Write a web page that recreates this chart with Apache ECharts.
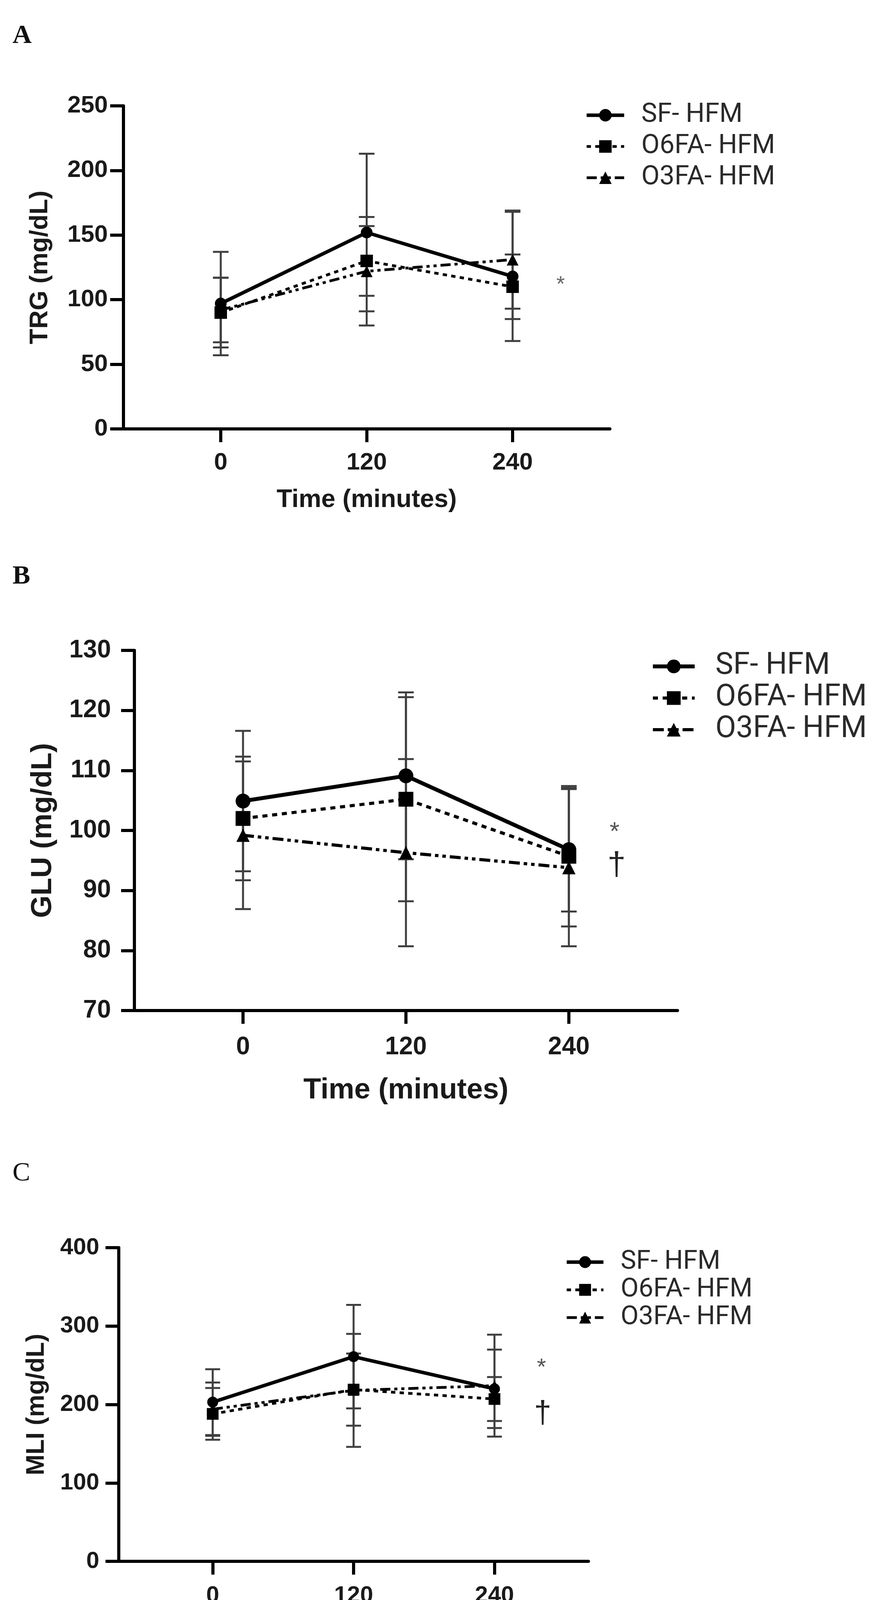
<!DOCTYPE html>
<html><head><meta charset="utf-8">
<script src="https://cdn.jsdelivr.net/npm/echarts@6/dist/echarts.min.js"></script>
<style>html,body{margin:0;padding:0;background:#fff;overflow:hidden}#c{width:2237px;height:4244px}</style>
</head><body><div id="c"></div>
<script>
// ---------- DATA ----------
const times = [0, 120, 240];
const groupNames = ['SF- HFM', 'O6FA- HFM', 'O3FA- HFM'];

// Panel A: TRG (mg/dL)
const trgSF = [97, 152, 118];
const trgSFsd = [40, 61, 50];
const trgO6 = [90, 130, 110];
const trgO6sd = [27, 27, 25];
const trgO3 = [92, 122, 131];
const trgO3sd = [25, 42, 38];
const trgTicks = [0, 250, 50];

// Panel B: GLU (mg/dL)
const gluSF = [104.9, 109.1, 96.8];
const gluSFsd = [11.7, 13.9, 10.3];
const gluO6 = [102, 105.2, 95.7];
const gluO6sd = [10.3, 17, 11.7];
const gluO3 = [99.2, 96.3, 93.8];
const gluO3sd = [12.3, 15.6, 13.1];
const gluTicks = [70, 130, 10];

// Panel C: MLI (mg/dL)
const mliSF = [203, 261, 220];
const mliSFsd = [42, 66, 50];
const mliO6 = [188, 219, 207];
const mliO6sd = [33, 46, 28];
const mliO3 = [194, 218, 224];
const mliO3sd = [34, 72, 65];
const mliTicks = [0, 400, 100];

// ---------- LAYOUT / STYLE ----------
const panels = [
  { id:'A', yName:'TRG (mg/dL)', ticks:trgTicks,
    means:[trgSF,trgO6,trgO3], sds:[trgSFsd,trgO6sd,trgO3sd],
    grid:{left:316, top:271, width:1245, height:827},
    tickFont:62, nameFont:65, yLabelMargin:40, xLabelMargin:56, xNameGap:150, yNameGap:180,
    lw:[9,7,7], dash:['solid',[11,11],[26,10,8,10,8,10]], sym:[30,32,30], cap:20, ew:5,
    legend:{left:1497, top:258, itemWidth:96, itemHeight:40, font:68, lh:74, gap:6, pad:39} },
  { id:'B', yName:'GLU (mg/dL)', ticks:gluTicks,
    means:[gluSF,gluO6,gluO3], sds:[gluSFsd,gluO6sd,gluO3sd],
    grid:{left:344, top:1665, width:1390, height:922},
    tickFont:64, nameFont:74, yLabelMargin:60, xLabelMargin:62, xNameGap:168, yNameGap:196,
    lw:[10,8,8], dash:['solid',[13,12],[28,10,9,10,9,10]], sym:[38,38,34], cap:20, ew:5,
    legend:{left:1666, top:1667, itemWidth:107, itemHeight:44, font:77, lh:78, gap:3, pad:48} },
  { id:'C', yName:'MLI (mg/dL)', ticks:mliTicks,
    means:[mliSF,mliO6,mliO3], sds:[mliSFsd,mliO6sd,mliO3sd],
    grid:{left:304, top:3194, width:1202, height:803},
    tickFont:60, nameFont:64, yLabelMargin:50, xLabelMargin:58, xNameGap:152, yNameGap:178,
    lw:[9,7,7], dash:['solid',[11,11],[26,10,8,10,8,10]], sym:[28,30,28], cap:19, ew:5,
    legend:{left:1446, top:3197, itemWidth:94, itemHeight:38, font:67, lh:68, gap:3, pad:39} }
];
const symbols = ['circle','rect','triangle'];

function errRender(capHalf, lw) {
  return function (params, api) {
    const x = api.value(0), lo = api.value(1), hi = api.value(2);
    const pLo = api.coord([x, lo]), pHi = api.coord([x, hi]);
    const style = { stroke:'#3f3f3f', lineWidth:lw };
    return { type:'group', children:[
      { type:'line', shape:{x1:pLo[0],y1:pLo[1],x2:pHi[0],y2:pHi[1]}, style },
      { type:'line', shape:{x1:pLo[0]-capHalf,y1:pLo[1],x2:pLo[0]+capHalf,y2:pLo[1]}, style },
      { type:'line', shape:{x1:pHi[0]-capHalf,y1:pHi[1],x2:pHi[0]+capHalf,y2:pHi[1]}, style }
    ]};
  };
}

const grids = [], xAxes = [], yAxes = [], series = [], legends = [];
panels.forEach((p, i) => {
  grids.push(Object.assign({containLabel:false}, p.grid));
  const axisLine = { show:true, onZero:false, lineStyle:{ color:'#000', width:8 } };
  const axisTick = { show:true, inside:false, length:34, lineStyle:{ color:'#000', width:8 } };
  xAxes.push({
    type:'value', gridIndex:i, min:-80, max:320,
    axisLine, axisTick:Object.assign({}, axisTick, {customValues:times}),
    axisLabel:{ customValues:times, margin:p.xLabelMargin, fontSize:p.tickFont, fontWeight:'bold',
      fontFamily:'Liberation Sans', color:'#1a1a1a' },
    splitLine:{show:false},
    name:'Time (minutes)', nameLocation:'middle', nameGap:p.xNameGap,
    nameTextStyle:{ fontSize:p.nameFont, fontWeight:'bold', fontFamily:'Liberation Sans', color:'#1a1a1a' }
  });
  yAxes.push({
    type:'value', gridIndex:i, min:p.ticks[0], max:p.ticks[1], interval:p.ticks[2],
    axisLine, axisTick,
    axisLabel:{ margin:p.yLabelMargin, fontSize:p.tickFont, fontWeight:'bold',
      fontFamily:'Liberation Sans', color:'#1a1a1a' },
    splitLine:{show:false},
    name:p.yName, nameLocation:'middle', nameGap:p.yNameGap, nameRotate:90,
    nameTextStyle:{ fontSize:p.nameFont, fontWeight:'bold', fontFamily:'Liberation Sans', color:'#1a1a1a' }
  });
  // error bars
  p.means.forEach((m, k) => {
    series.push({
      type:'custom', xAxisIndex:i, yAxisIndex:i, clip:false, z:2, silent:true,
      renderItem: errRender(p.cap, p.ew),
      encode:{ x:0, y:[1,2] },
      data: times.map((t, j) => [t, m[j] - p.sds[k][j], m[j] + p.sds[k][j]])
    });
  });
  // lines
  p.means.forEach((m, k) => {
    series.push({
      type:'line', name: groupNames[k] + '|' + p.id, xAxisIndex:i, yAxisIndex:i, z:3,
      data: times.map((t, j) => [t, m[j]]),
      symbol: symbols[k], symbolSize: p.sym[k], showAllSymbol:true,
      itemStyle:{ color:'#000' },
      lineStyle:{ color:'#000', width:p.lw[k], type:p.dash[k] },
      emphasis:{ disabled:true }, animation:false
    });
  });
  const L = p.legend;
  legends.push({
    orient:'vertical', left:L.left, top:L.top, itemWidth:L.itemWidth, itemHeight:L.itemHeight,
    itemGap:L.gap, selectedMode:false, padding:0,
    data: groupNames.map((n, k) => ({ name: n + '|' + p.id,
      lineStyle:{ width:p.lw[k], type:p.dash[k], color:'#000' } })),
    formatter: n => n.split('|')[0],
    textStyle:{ fontSize:L.font, lineHeight:L.lh, fontFamily:'Roboto', color:'#2a2a2a',
      padding:[0,0,0,L.pad] }
  });
});

const letterStyle = (t, x, y, weight) => ({ type:'text', left:x, top:y,
  style:{ text:t, fontSize:68, fontWeight:weight, fontFamily:'Liberation Serif', fill:'#111' } });
const mark = (t, x, y, size, color) => ({ type:'text', x:x, y:y,
  style:{ text:t, fontSize:size, fontFamily:'Liberation Sans', fill:color, align:'center', verticalAlign:'middle' } });

const chart = echarts.init(document.getElementById('c'), null, {width:2237, height:4244});
chart.setOption({
  animation:false,
  backgroundColor:'#fff',
  grid:grids, xAxis:xAxes, yAxis:yAxes, series, legend:legends,
  graphic:[
    letterStyle('A', 32, 58, 'bold'),
    letterStyle('B', 32, 1442, 'bold'),
    letterStyle('C', 32, 2970, 'normal'),
    mark('*', 1435, 730, 56, '#666'),
    mark('*', 1573, 2132, 64, '#555'),
    mark('†', 1578, 2217, 84, '#222'),
    mark('*', 1386, 3502, 60, '#555'),
    mark('†', 1389, 3620, 80, '#222')
  ]
});
</script></body></html>
